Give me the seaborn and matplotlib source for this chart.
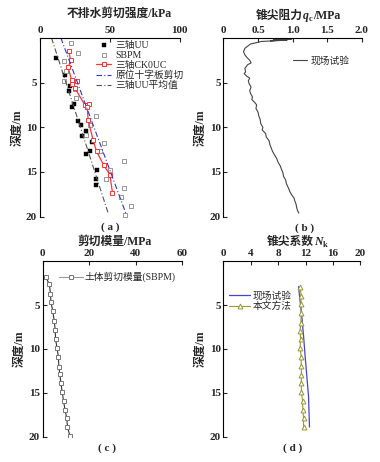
import numpy as np
import matplotlib
matplotlib.use("Agg")
import matplotlib.pyplot as plt
import seaborn as sns

# (a) 不排水剪切强度
uu_su = [11.4, 18.1, 21.4, 20.7, 24.3, 23.1, 27.6, 29.3, 32.9, 29.8, 37.6, 35.7, 32.9, 40.5, 39.8, 39.8]
uu_z = [2.2, 4.2, 5.4, 5.9, 7.4, 7.7, 9.3, 9.7, 10.4, 11.0, 11.6, 12.7, 13.0, 14.8, 15.8, 16.5]
sbpm_su = [21.9, 26.9, 17.1, 18.6, 16.9, 25.0, 25.7, 40.0, 35.7, 33.3, 45.5, 42.9, 60.0, 50.0, 47.1, 60.0, 57.9, 65.5, 60.5]
sbpm_z = [0.6, 1.7, 2.6, 3.7, 4.8, 5.7, 6.7, 8.7, 9.8, 10.9, 11.8, 12.7, 13.8, 14.8, 15.8, 16.8, 17.8, 18.8, 19.8]
ck_su = [20.7, 21.9, 20.2, 22.6, 26.2, 23.3, 25.0, 32.1, 35.2, 33.8, 34.5, 38.0, 40.5, 45.5, 50.0, 51.9]
ck_z = [1.5, 2.5, 3.3, 4.7, 4.8, 5.2, 5.6, 7.5, 7.4, 7.7, 9.2, 11.4, 12.7, 14.2, 15.3, 17.3]
vane_su = [15.0, 61.4]
vane_z = [0.0, 19.6]
uu_avg_su = [8.3, 48.8]
uu_avg_z = [0.0, 19.6]

# (b) 锥尖阻力
qc = [1.02, 0.72, 0.98, 0.68, 0.92, 0.55, 0.39, 0.31, 0.29, 0.31, 0.34, 0.38, 0.40, 0.35, 0.31, 0.32,
      0.30, 0.34, 0.38, 0.36, 0.37, 0.40, 0.38, 0.39, 0.42, 0.41, 0.45, 0.48, 0.47, 0.50, 0.51, 0.53,
      0.54, 0.57, 0.56, 0.61, 0.62, 0.66, 0.67, 0.69, 0.71, 0.74, 0.77, 0.79, 0.82, 0.84, 0.86, 0.87,
      0.90, 0.91, 0.94, 0.96, 0.99, 1.02, 1.03, 1.05, 1.06, 1.07, 1.09]
qc_z = [0.06, 0.22, 0.15, 0.32, 0.25, 0.40, 0.69, 1.17, 1.55, 1.9, 2.2, 2.5, 2.8, 3.0, 3.4, 3.8,
        4.0, 4.3, 4.5, 4.8, 5.1, 5.5, 5.9, 6.2, 6.6, 6.9, 7.2, 7.5, 7.9, 8.3, 8.7, 9.1,
        9.6, 10.0, 10.3, 10.7, 11.1, 11.5, 11.9, 12.3, 12.7, 13.1, 13.5, 13.9, 14.3, 14.7, 15.1, 15.5,
        15.9, 16.3, 16.8, 17.2, 17.6, 17.9, 18.2, 18.6, 19.0, 19.3, 19.6]

# (c) 剪切模量
g_mod = [1.3, 2.9, 3.4, 3.6, 4.4, 5.0, 5.4, 5.6, 6.2, 6.8, 7.0, 7.4, 7.9, 8.4, 9.0, 9.6, 10.4, 10.7, 11.7]
g_z = [1.8, 2.6, 3.7, 4.7, 5.7, 6.8, 7.8, 8.9, 9.9, 10.9, 12.0, 12.9, 13.9, 14.9, 15.9, 16.9, 17.9, 18.9, 19.9]

# (d) 锥尖系数
nk_field = [10.98, 11.2, 11.46, 11.72, 11.95, 12.2, 12.44, 12.58]
nk_field_z = [2.9, 4.5, 6.3, 8.6, 10.9, 13.2, 15.4, 18.9]
nk_calc = [11.22, 11.37, 11.32, 11.37, 11.32, 11.22, 11.27, 11.22, 11.37, 11.37, 11.41, 11.37, 11.41,
           11.56, 11.61, 11.71, 11.71]
nk_calc_z = [2.9, 4.0, 4.9, 5.9, 7.0, 7.9, 8.9, 9.9, 10.9, 11.9, 12.95, 13.9, 14.96, 15.9, 16.9, 17.9, 18.9]

sns.set_style("ticks")
plt.rcParams['font.family'] = ['Liberation Serif', 'Noto Sans CJK SC', 'DejaVu Sans']

fig = plt.figure(figsize=(3.8, 4.62), dpi=100)
renderer = fig.canvas.get_renderer()


def rich_title(x_px, y_px, pieces):
    # pieces: (text, fontsize, style, dy_px) drawn side by side, centred on x_px
    texts = []
    for txt, fs, st, dy in pieces:
        t = fig.text(0, 1 - (y_px + dy) / 462, txt, fontsize=fs, fontweight='bold', style=st,
                     ha='left', va='baseline')
        texts.append(t)
    widths = [t.get_window_extent(renderer).width for t in texts]
    x = x_px - sum(widths) / 2
    for t, w in zip(texts, widths):
        t.set_x(x / 380)
        x += w


def style_ax(ax, xlim, xticks, tag, tag_xy):
    ax.set_xlim(*xlim)
    ax.set_ylim(20, 0)
    ax.set_xticks(xticks)
    ax.set_yticks([5, 10, 15, 20])
    ax.xaxis.tick_top()
    ax.set_ylabel("深度/m", fontsize=8.5, fontweight='bold', labelpad=2)
    ax.tick_params(direction='in', length=3, width=0.8, labelsize=8, pad=2)
    for lab in ax.get_xticklabels() + ax.get_yticklabels():
        lab.set_fontweight('bold')
    ax.spines['right'].set_visible(False)
    ax.spines['bottom'].set_visible(False)
    ax.spines['top'].set_visible(True)
    for s in ['top', 'left']:
        ax.spines[s].set_linewidth(0.8)
        ax.spines[s].set_color('black')
    ax.set_facecolor('white')
    fig.text(tag_xy[0] / 380, 1 - tag_xy[1] / 462, tag, fontsize=8, fontweight='bold',
             ha='center', va='center')


# (a)
ax1 = fig.add_axes([0.105, 0.531, 0.368, 0.387])
sns.scatterplot(x=uu_su, y=uu_z, ax=ax1, marker='s', s=10, color='black', edgecolor='black',
                linewidth=0.3, label='三轴UU')
sns.scatterplot(x=sbpm_su, y=sbpm_z, ax=ax1, marker='s', s=10, facecolor='white', edgecolor='#888888',
                linewidth=0.6, label='SBPM')
sns.lineplot(x=ck_su, y=ck_z, ax=ax1, sort=False, estimator=None, color='#ff3333', linewidth=0.9,
             marker='s', markersize=3.5, markerfacecolor='white', markeredgecolor='#ff3333',
             markeredgewidth=0.7, label='三轴CK0UC')
sns.lineplot(x=vane_su, y=vane_z, ax=ax1, sort=False, estimator=None, color='#3333dd', linewidth=0.8,
             linestyle=(0, (5, 2, 1, 2)), label='原位十字板剪切')
sns.lineplot(x=uu_avg_su, y=uu_avg_z, ax=ax1, sort=False, estimator=None, color='#555555', linewidth=0.8,
             linestyle=(0, (5, 2, 1, 2)), label='三轴UU平均值')
style_ax(ax1, (0, 100), [0, 50, 100], "( a )", (110, 227))
ax1.legend(loc='upper left', bbox_to_anchor=(0.40, 0.985), frameon=False, fontsize=7,
           handlelength=1.6, handletextpad=0.4, labelspacing=0.1, borderpad=0, borderaxespad=0)
rich_title(119, 17, [("不排水剪切强度/kPa", 8.5, 'normal', 0)])

# (b)
ax2 = fig.add_axes([0.588, 0.531, 0.364, 0.387])
sns.lineplot(x=qc, y=qc_z, ax=ax2, sort=False, estimator=None, color='#444444', linewidth=0.8,
             label='现场试验')
style_ax(ax2, (0, 2.0), [0, 0.5, 1.0, 1.5, 2.0], "( b )", (305, 228))
ax2.set_xticklabels(['0', '0.5', '1.0', '1.5', '2.0'], fontweight='bold')
ax2.legend(loc='upper left', bbox_to_anchor=(0.50, 0.90), frameon=False, fontsize=7,
           handlelength=1.5, handletextpad=0.4, borderpad=0, borderaxespad=0)
rich_title(298, 19, [("锥尖阻力", 8.5, 'normal', 0), ("q", 8.5, 'italic', 0), ("c", 6, 'normal', 2),
                     ("/MPa", 8.5, 'normal', 0)])

# (c)
ax3 = fig.add_axes([0.112, 0.0547, 0.368, 0.380])
sns.lineplot(x=g_mod, y=g_z, ax=ax3, sort=False, estimator=None, color='#333333', linewidth=0.8,
             marker='s', markersize=3.5, markerfacecolor='white', markeredgecolor='#777777',
             markeredgewidth=0.7, label='土体剪切模量(SBPM)')
style_ax(ax3, (0, 60), [0, 20, 40, 60], "( c )", (107, 448))
leg3 = ax3.legend(loc='upper left', bbox_to_anchor=(0.12, 0.94), frameon=False, fontsize=7,
                  handlelength=2.4, handletextpad=0.2, borderpad=0, borderaxespad=0)
for line in leg3.get_lines():
    line.set_color('#999999')
rich_title(115, 245, [("剪切模量/MPa", 8.5, 'normal', 0)])

# (d)
ax4 = fig.add_axes([0.588, 0.0547, 0.36, 0.380])
sns.lineplot(x=nk_field, y=nk_field_z, ax=ax4, sort=False, estimator=None, color='#4444cc', linewidth=0.9,
             label='现场试验')
sns.lineplot(x=nk_calc, y=nk_calc_z, ax=ax4, sort=False, estimator=None, color='#999933', linewidth=0.8,
             marker='^', markersize=3.5, markerfacecolor='white', markeredgecolor='#999933',
             markeredgewidth=0.7, label='本文方法')
style_ax(ax4, (0, 20), [0, 4, 8, 12, 16, 20], "( d )", (293, 448))
ax4.legend(loc='upper left', bbox_to_anchor=(0.04, 0.83), frameon=False, fontsize=7,
           handlelength=2.2, handletextpad=0.2, labelspacing=0.1, borderpad=0, borderaxespad=0)
rich_title(297, 245, [("锥尖系数", 8.5, 'normal', 0), ("N", 8.5, 'italic', 0), ("k", 6, 'normal', 2)])

fig.savefig("out.png", dpi=100)
